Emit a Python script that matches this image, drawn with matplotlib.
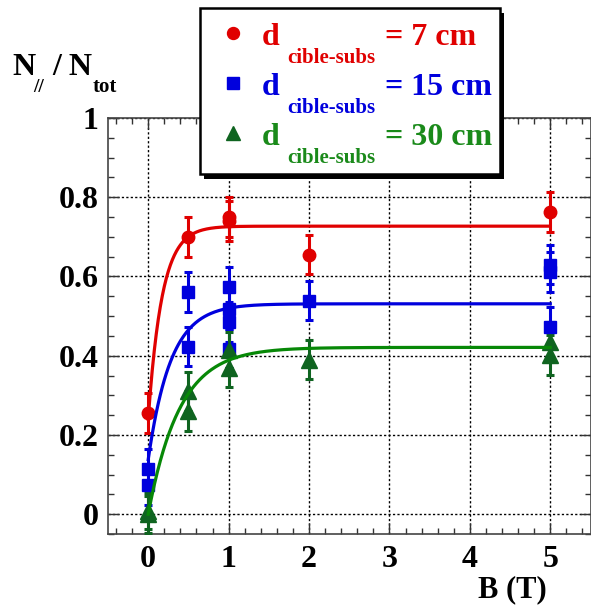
import numpy as np
import matplotlib
matplotlib.use('Agg')
import matplotlib.pyplot as plt
from matplotlib.ticker import MultipleLocator
from matplotlib.patches import Rectangle
from matplotlib.lines import Line2D

plt.rcParams['font.family'] = 'Liberation Serif'
plt.rcParams['font.weight'] = 'bold'

# data points: B field (T), N// / Ntot, error
x_7 = [0, 0.5, 1, 1, 2, 5]
y_7 = [0.255, 0.70, 0.74, 0.75, 0.655, 0.762]
e_7 = [0.05, 0.05, 0.05, 0.05, 0.05, 0.05]

x_15 = [0, 0, 0.5, 0.5, 1, 1, 1, 1, 2, 5, 5, 5]
y_15 = [0.115, 0.073, 0.561, 0.423, 0.574, 0.518, 0.485, 0.418, 0.539, 0.63, 0.612, 0.473]
e_15 = [0.05, 0.05, 0.05, 0.05, 0.05, 0.05, 0.05, 0.05, 0.05, 0.05, 0.05, 0.05]

x_30 = [0, 0, 0.5, 0.5, 1, 1, 2, 5, 5]
y_30 = [0.008, 0.0, 0.31, 0.26, 0.415, 0.37, 0.39, 0.435, 0.402]
e_30 = [0.045, 0.047, 0.05, 0.05, 0.045, 0.05, 0.05, 0.05, 0.05]

# saturating fit: (value at B=0, plateau, B scale)
fit_7 = (0.24, 0.727, 0.172)
fit_15 = (0.138, 0.531, 0.28)
fit_30 = (0.0, 0.421, 0.39)

labels = ['= 7 cm', '= 15 cm', '= 30 cm']
xticks = [0, 1, 2, 3, 4, 5]
yticks = [0, 0.2, 0.4, 0.6, 0.8, 1]

red = '#e00000'
blue = '#0000dd'
green_m = '#0f6420'
green_l = '#078807'
green_t = '#1a8a1a'

W, H = 591, 608
fig = plt.figure(figsize=(W / 100, H / 100), dpi=100)
ax = fig.add_axes([108 / W, (H - 534) / H, (590.5 - 108) / W, (534 - 118) / H])

ax.set_xlim(-0.5, 5.5)
ax.set_ylim(-0.05, 1.0)
ax.set_xticks(xticks)
ax.set_yticks(yticks)
ax.set_yticklabels(['0', '0.2', '0.4', '0.6', '0.8', '1'])
ax.xaxis.set_minor_locator(MultipleLocator(0.2))
ax.yaxis.set_minor_locator(MultipleLocator(0.05))
ax.tick_params(which='both', direction='in', top=True, right=True, color='#333333', width=1)
ax.tick_params(which='major', length=8, labelsize=23)
ax.tick_params(which='minor', length=4)
ax.tick_params(axis='x', pad=8)
ax.tick_params(axis='y', pad=7)
for s in ax.spines.values():
    s.set_color('#444444')
    s.set_linewidth(1.2)
ax.grid(True, which='major', color='black', linestyle=(0, (1.6, 1.6)), linewidth=1)
ax.set_axisbelow(True)

bb = np.linspace(0, 5, 400)
series = [(x_7, y_7, e_7, fit_7, red, red, 'o', 9),
          (x_15, y_15, e_15, fit_15, blue, blue, 's', 8.8),
          (x_30, y_30, e_30, fit_30, green_m, green_l, '^', 11)]
for xs, ys, es, fp, mc, lc, mk, ms in series:
    ax.errorbar(xs, ys, yerr=es, fmt=mk, color=mc, ms=ms, elinewidth=2.2,
                capsize=3.2, capthick=2.2, zorder=3)
    c0, p, tau = fp
    ax.plot(bb, p - (p - c0) * np.exp(-bb / tau), color=lc, lw=2.3, zorder=4)

# y label
fig.text(12 / W, 1 - 75 / H, 'N', fontsize=23, fontweight='bold')
fig.text(33 / W, 1 - 92 / H, '//', fontsize=14, fontweight='bold')
fig.text(52 / W, 1 - 75 / H, '/ N', fontsize=23, fontweight='bold')
fig.text(93 / W, 1 - 92 / H, 'tot', fontsize=15, fontweight='bold')

# x label
fig.text(547 / W, 1 - 597 / H, 'B (T)', fontsize=22, fontweight='bold', ha='right')

# legend box with shadow
fig.patches.append(Rectangle((204 / W, 1 - 179 / H), 300 / W, 166 / H, transform=fig.transFigure,
                             facecolor='black', edgecolor='none', zorder=10))
fig.patches.append(Rectangle((200 / W, 1 - 174 / H), 300 / W, 166 / H, transform=fig.transFigure,
                             facecolor='white', edgecolor='black', linewidth=1.8, zorder=11))
tcols = [red, blue, green_t]
mcols = [red, blue, green_m]
marks = ['o', 's', '^']
msz = [8.6, 8.6, 10]
for i in range(3):
    yb = 45 + 50 * i
    fig.lines.append(Line2D([233 / W], [1 - (yb - 12) / H], marker=marks[i], ms=msz[i], color=mcols[i],
                            transform=fig.transFigure, zorder=12))
    fig.text(262 / W, 1 - yb / H, 'd', fontsize=23, fontweight='bold', color=tcols[i], zorder=12)
    fig.text(287 / W, 1 - (yb + 18) / H, 'cible-subs', fontsize=15, fontweight='bold', color=tcols[i], zorder=12)
    fig.text(385 / W, 1 - yb / H, labels[i], fontsize=23, fontweight='bold', color=tcols[i], zorder=12)

fig.savefig('out.png', dpi=100)
